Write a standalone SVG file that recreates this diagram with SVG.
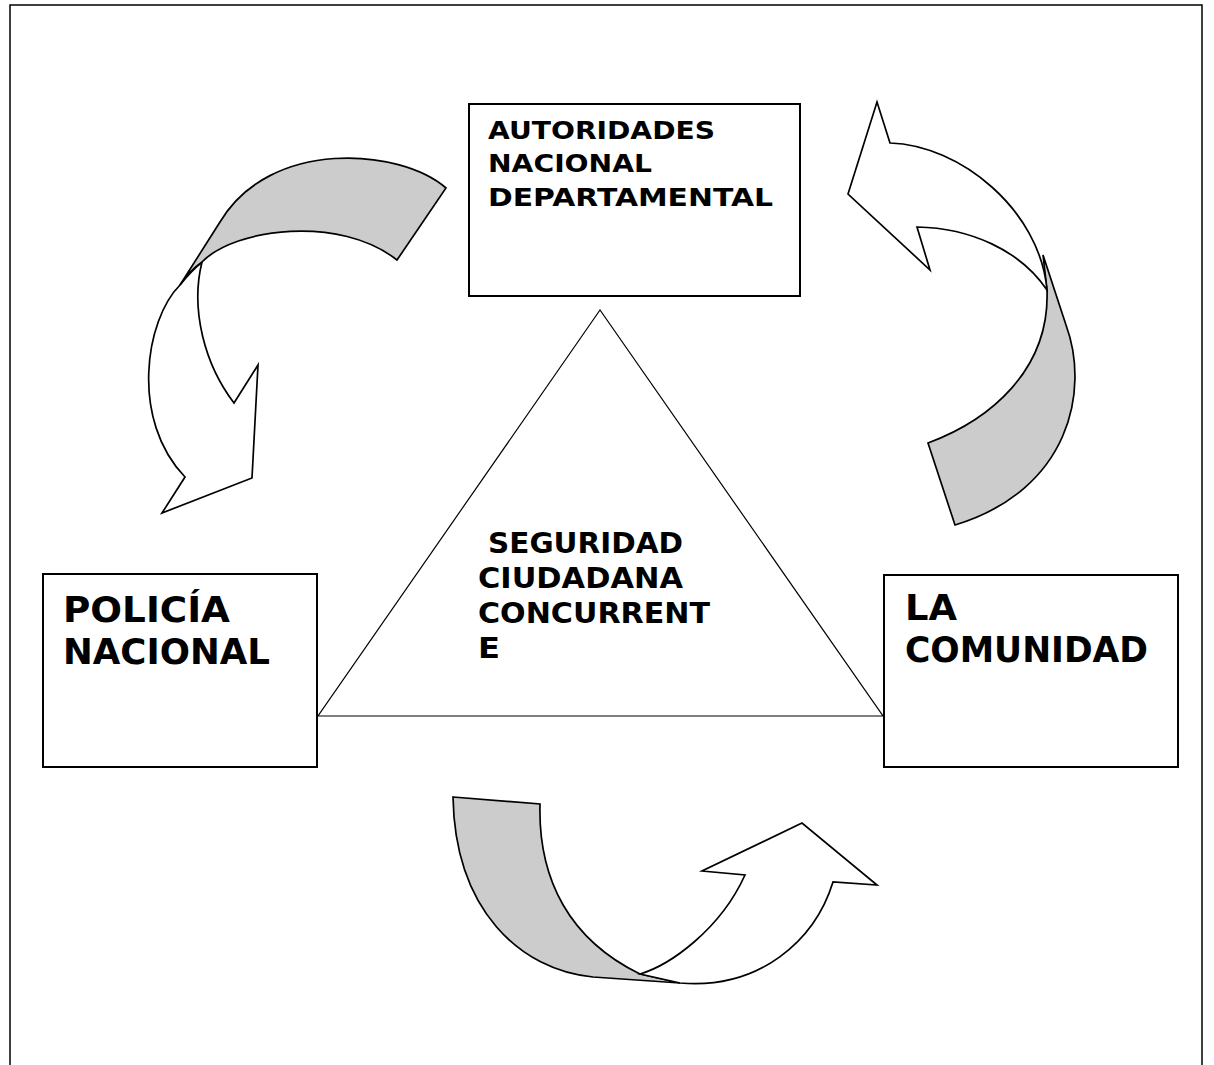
<svg xmlns="http://www.w3.org/2000/svg" width="1214" height="1065" viewBox="0 0 1214 1065">
<style>
.box{fill:#fff;stroke:#000;stroke-width:2}
.arr{stroke:#000;stroke-width:1.7;stroke-linejoin:miter}
.w{fill:#fff}
.g{fill:#cccccc}
.t{font-family:"DejaVu Sans","Liberation Sans",sans-serif;font-weight:bold;fill:#000}
</style>
<rect x="0" y="0" width="1214" height="1065" fill="#fff"/>
<path d="M10,1065 L10,5 L1202,5 L1202,1065" fill="none" stroke="#000" stroke-width="1.5"/>
<g id="triangulo">
<polygon points="600,310 318,716 883,716" fill="#fff" stroke="#000" stroke-width="1.2"/>
<text class="t" font-size="29" x="488" y="553" textLength="195" lengthAdjust="spacingAndGlyphs">SEGURIDAD</text>
<text class="t" font-size="29" x="478" y="588" textLength="205" lengthAdjust="spacingAndGlyphs">CIUDADANA</text>
<text class="t" font-size="29" x="478" y="623" textLength="232" lengthAdjust="spacingAndGlyphs">CONCURRENT</text>
<text class="t" font-size="29" x="478" y="658" textLength="22" lengthAdjust="spacingAndGlyphs">E</text>
</g>
<g id="autoridades">
<rect class="box" x="469" y="104" width="331" height="192"/>
<text class="t" font-size="24" x="488" y="139" textLength="227" lengthAdjust="spacingAndGlyphs">AUTORIDADES</text>
<text class="t" font-size="24" x="488" y="172" textLength="164" lengthAdjust="spacingAndGlyphs">NACIONAL</text>
<text class="t" font-size="24" x="488" y="206" textLength="285" lengthAdjust="spacingAndGlyphs">DEPARTAMENTAL</text>
</g>
<g id="policia">
<rect class="box" x="43" y="574" width="274" height="193"/>
<text class="t" font-size="35" x="63" y="622" textLength="167" lengthAdjust="spacingAndGlyphs">POLICÍA</text>
<text class="t" font-size="35" x="63" y="664" textLength="207" lengthAdjust="spacingAndGlyphs">NACIONAL</text>
</g>
<g id="comunidad">
<rect class="box" x="884" y="575" width="294" height="192"/>
<text class="t" font-size="36" x="905" y="620" textLength="52" lengthAdjust="spacingAndGlyphs">LA</text>
<text class="t" font-size="36" x="905" y="662" textLength="243" lengthAdjust="spacingAndGlyphs">COMUNIDAD</text>
</g>
<g id="conectores">
<g id="flecha-izquierda">
<path class="arr w" d="M180,285 C145,320 130,420 185,477 L162,513 L252,478 L258,365 L234,403 C205,365 190,310 202,262 Q190,272 180,285 Z"/>
<path class="arr g" d="M446,188 C400,148 270,138 220,222 L180,285 Q188,272 202,262 C235,228 340,215 397,260 Z"/>
</g>
<g id="flecha-derecha">
<path class="arr g" d="M1043,255 L1066,325 C1090,390 1070,490 955,525 L928,443 C990,420 1050,370 1047,290 Z"/>
<path class="arr w" d="M890,143 C960,145 1040,210 1047,290 C1020,250 970,228 917,227 L930,270 L848,194 L877,102 Z"/>
</g>
<g id="flecha-inferior">
<path class="arr g" d="M453,797 L540,804 C538,880 570,940 640,974 L680,983 L593,977 C520,970 455,910 453,797 Z"/>
<path class="arr w" d="M640,974 C670,965 720,930 745,875 L702,871 L802,823 L877,885 L833,882 C815,940 760,990 680,983 Z"/>
</g>
</g>
</svg>
